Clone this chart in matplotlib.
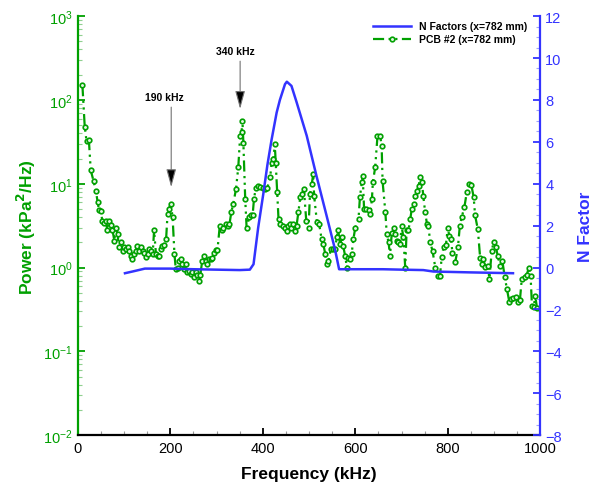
import matplotlib
matplotlib.use("Agg")
import matplotlib.pyplot as plt
from matplotlib.ticker import MultipleLocator, LogLocator, NullFormatter
from matplotlib.lines import Line2D

plt.rcParams['font.family'] = ['Liberation Sans', 'DejaVu Sans']

# --- Data: PCB #2 power spectrum ---
pcb_freq = [10, 15, 19, 24, 28, 34, 39, 43, 46, 50, 53, 57, 60, 64, 68, 71, 75, 79, 82, 86,
            89, 93, 97, 100, 104, 108, 111, 115, 118, 122, 126, 129, 133, 136, 140, 144, 147,
            151, 154, 158, 162, 165, 169, 173, 176, 180, 183, 187, 191, 194, 197, 201, 205,
            209, 212, 216, 219, 223, 226, 230, 233, 237, 240, 244, 247, 251, 255, 258, 262,
            265, 269, 273, 277, 280, 284, 287, 291, 295, 299, 302, 307, 311, 314, 320, 324,
            328, 332, 336, 342, 347, 351, 354, 356, 358, 362, 365, 371, 374, 378, 381, 385,
            390, 395, 400, 405, 410, 416, 419, 423, 426, 428, 431, 434, 437, 443, 448, 452,
            455, 459, 462, 466, 470, 473, 477, 481, 484, 489, 494, 499, 502, 506, 509, 511,
            517, 522, 527, 531, 535, 538, 542, 547, 551, 556, 560, 563, 567, 571, 574, 578,
            582, 585, 589, 592, 596, 600, 607, 610, 614, 616, 619, 624, 629, 632, 636, 638,
            643, 648, 654, 657, 659, 665, 668, 672, 675, 679, 683, 686, 690, 693, 697, 700,
            704, 708, 711, 715, 719, 722, 726, 729, 733, 737, 740, 744, 747, 751, 755, 758,
            762, 767, 773, 779, 783, 787, 791, 796, 800, 803, 807, 810, 816, 822, 826, 830,
            836, 841, 845, 851, 856, 859, 865, 870, 874, 877, 881, 886, 890, 895, 899, 904,
            908, 913, 918, 923, 928, 933, 937, 942, 947, 951, 956, 960, 966, 971, 975, 979,
            982, 986, 989, 993]
pcb_power = [150, 48, 32, 33, 14.5, 10.8, 8.3, 6.0, 4.8, 4.7, 3.6, 3.4, 3.6, 2.8, 3.6, 3.2,
             2.8, 2.1, 3.0, 2.5, 1.74, 2.0, 1.58, 1.74, 1.67, 1.74, 1.58, 1.38, 1.26, 1.45,
             1.58, 1.8, 1.58, 1.74, 1.58, 1.5, 1.32, 1.45, 1.67, 1.58, 1.45, 2.8, 1.45, 1.38,
             1.38, 1.67, 1.8, 1.87, 2.2, 4.3, 5.0, 5.8, 4.0, 1.45, 0.95, 1.0, 1.2, 1.26, 1.1,
             0.95, 1.1, 0.88, 0.92, 0.84, 0.88, 0.78, 0.88, 0.82, 0.69, 0.82, 1.2, 1.38, 1.2,
             1.1, 1.25, 1.27, 1.3, 1.5, 1.6, 1.62, 3.15, 2.8, 3.0, 3.3, 3.1, 3.3, 4.6, 5.7,
             8.6, 15.7, 37, 41, 56, 31, 6.6, 3.0, 4.0, 4.2, 4.2, 6.6, 9.0, 9.4, 9.2, 9.0, 8.6,
             9.0, 11.9, 17.7, 20, 29.4, 17.7, 7.9, 3.8, 3.3, 3.15, 3.0, 2.7, 3.15, 3.3, 3.0,
             3.3, 2.7, 3.15, 4.6, 6.9, 7.5, 8.6, 3.6, 3.0, 7.5, 10, 13, 7.2, 3.5, 3.3, 2.2,
             1.9, 1.45, 1.1, 1.2, 1.65, 1.65, 1.65, 2.3, 2.8, 1.9, 2.3, 1.8, 1.38, 1.0, 1.3,
             1.25, 1.45, 2.2, 3.0, 3.8, 6.9, 10.4, 12.5, 5.0, 5.0, 4.8, 4.3, 6.6, 10.4, 15.7,
             37, 37, 28, 10.7, 4.6, 2.5, 2.0, 1.38, 2.6, 3.0, 2.5, 2.1, 2.0, 1.9, 3.15, 2.3,
             1.0, 2.8, 2.8, 3.8, 5.0, 5.8, 7.2, 8.1, 9.4, 11.9, 10.4, 7.2, 4.6, 3.3, 3.15,
             2.0, 1.58, 1.0, 0.79, 0.79, 1.35, 1.77, 1.87, 3.0, 2.4, 2.2, 1.5, 1.15, 1.75,
             3.15, 3.97, 5.3, 7.9, 10, 9.6, 6.9, 4.2, 2.85, 1.3, 1.1, 1.25, 1.02, 1.05, 0.74,
             1.58, 2.0, 1.75, 1.38, 1.05, 1.2, 0.78, 0.55, 0.39, 0.42, 0.43, 0.45, 0.39, 0.41,
             0.74, 0.78, 0.82, 1.0, 0.8, 0.35, 0.34, 0.46, 0.33]

# --- Data: N factor curve ---
n_freq = [102, 120, 145, 200, 250, 300, 350, 372, 380, 390, 401, 410, 419, 430, 437, 448,
          452, 462, 473, 495, 516, 538, 556, 565, 600, 660, 700, 747, 769, 848, 941]
n_factor = [-0.27, -0.18, -0.05, -0.05, -0.08, -0.1, -0.12, -0.1, 0.16, 1.9, 3.5, 4.9, 6.1,
            7.4, 8.0, 8.75, 8.87, 8.67, 7.9, 6.29, 4.38, 2.47, 0.88, -0.08, -0.08, -0.08,
            -0.1, -0.12, -0.19, -0.23, -0.27]

green = '#00a000'
blue = '#3333ff'
dashdotdot = (0, (5, 2, 1, 2, 1, 2))

fig = plt.figure(figsize=(6.03, 4.89), dpi=100)
ax = fig.add_axes([0.129, 0.108, 0.767, 0.857])
ax2 = ax.twinx()

# --- PCB spectrum (left, log axis) ---
ax.plot(pcb_freq, pcb_power, color=green, lw=1.6, ls=dashdotdot,
        marker='o', ms=3.3, mfc='#e6f6e6', mec=green, mew=1.2)
ax.set_yscale('log')
ax.set_ylim(1e-2, 1e3)
ax.set_xlim(0, 1000)
ax.xaxis.set_major_locator(MultipleLocator(200))
ax.xaxis.set_minor_locator(MultipleLocator(50))
ax.yaxis.set_major_locator(LogLocator(base=10, numticks=10))
ax.yaxis.set_minor_locator(LogLocator(base=10, subs=range(2, 10), numticks=10))
ax.yaxis.set_minor_formatter(NullFormatter())

# --- N factor (right axis) ---
ax2.plot(n_freq, n_factor, color=blue, lw=1.8)
ax2.set_ylim(-8, 12)
ax2.yaxis.set_major_locator(MultipleLocator(2))
ax2.yaxis.set_minor_locator(MultipleLocator(0.5))

# --- Spines and ticks ---
for a in (ax, ax2):
    a.spines['top'].set_visible(False)
ax.spines['left'].set_color(green)
ax.spines['left'].set_linewidth(1.6)
ax.spines['bottom'].set_linewidth(1.6)
ax2.spines['right'].set_color(blue)
ax2.spines['right'].set_linewidth(1.6)
ax2.spines['left'].set_visible(False)
ax2.spines['bottom'].set_visible(False)
ax.spines['right'].set_visible(False)

ax.tick_params(axis='x', which='major', direction='in', length=5, width=1.3, labelsize=10.5,
               colors='black', pad=4)
ax.tick_params(axis='x', which='minor', direction='in', length=3, width=0.8, color='0.6')
ax.tick_params(axis='y', which='major', direction='in', length=5, width=1.3, color=green,
               labelcolor=green, labelsize=10.5)
ax.tick_params(axis='y', which='minor', direction='in', length=3, width=0.8, color='#90d090')
ax2.tick_params(axis='y', which='major', direction='in', length=5, width=1.3, color=blue,
                labelcolor=blue, labelsize=10.5)
ax2.tick_params(axis='y', which='minor', direction='in', length=3, width=0.8, color='#a0a0ff')

ax.set_xlabel("Frequency (kHz)", fontsize=12.5, fontweight='bold', labelpad=8)
ax.set_ylabel("Power (kPa$^\\mathbf{2}$/Hz)", fontsize=12.5, fontweight='bold', color=green,
              labelpad=4)
ax2.set_ylabel("N Factor", fontsize=12.5, fontweight='bold', color=blue, labelpad=12)

# --- Annotations ---
arrow = dict(arrowstyle='-|>,head_length=1.1,head_width=0.3', fc='black',
             ec='0.45', lw=0.8, shrinkA=0, shrinkB=0)
ax.annotate("", xy=(351, 78), xytext=(351, 290), arrowprops=arrow)
ax.text(340, 330, "340 kHz", ha='center', va='bottom', fontsize=7.5, fontweight='bold')
ax.annotate("", xy=(202, 9.1), xytext=(202, 82), arrowprops=arrow)
ax.text(187, 95, "190 kHz", ha='center', va='bottom', fontsize=7.5, fontweight='bold')

# --- Legend ---
handles = [Line2D([], [], color=blue, lw=1.8),
           Line2D([], [], color=green, lw=1.6, ls=dashdotdot,
                  marker='o', ms=3.3, mfc='#e6f6e6', mec=green, mew=1.2, markevery=[0])]
leg = ax2.legend(handles, ["N Factors (x=782 mm)", "PCB #2 (x=782 mm)"],
                 loc='upper left', bbox_to_anchor=(0.612, 0.963),
                 bbox_transform=fig.transFigure, frameon=False,
                 prop={'weight': 'bold', 'size': 7.5}, handlelength=3.6,
                 handletextpad=0.8, labelspacing=0.3, borderaxespad=0)

fig.savefig("out.png", dpi=100)
